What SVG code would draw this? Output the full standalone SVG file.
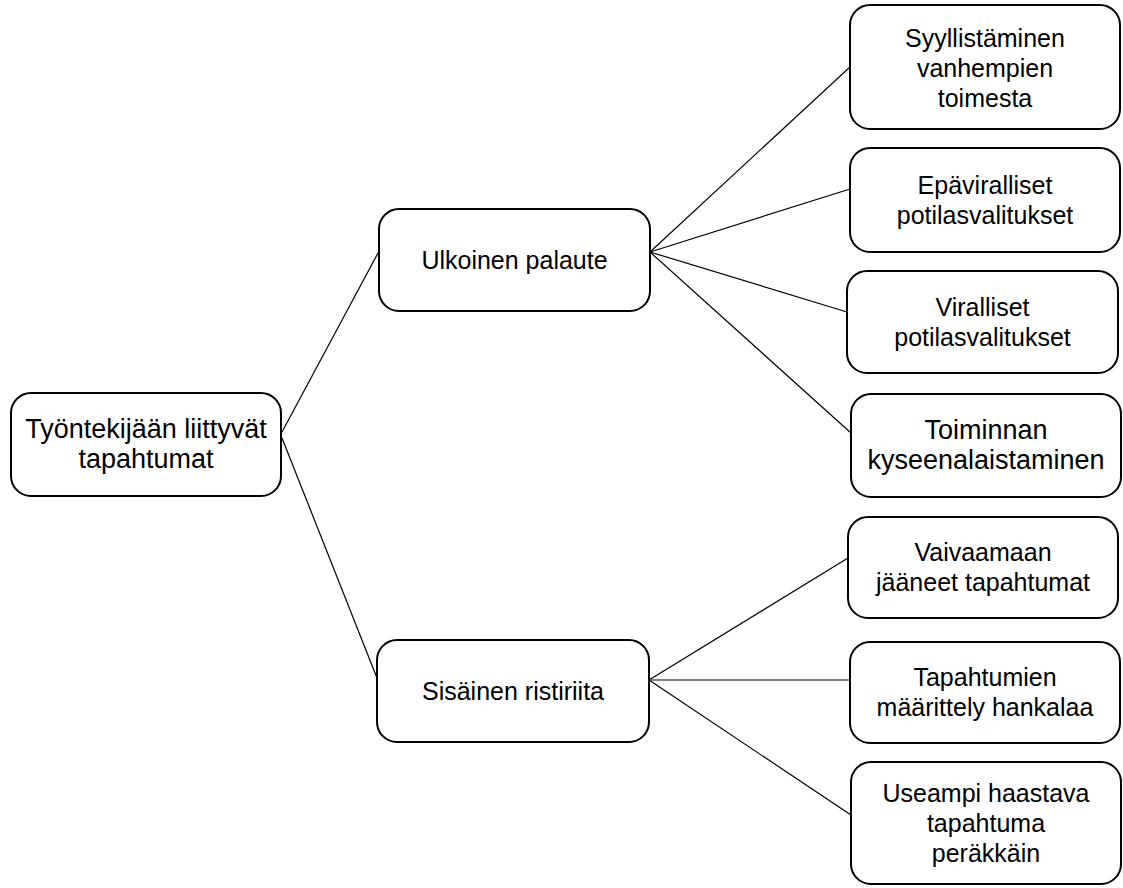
<svg xmlns="http://www.w3.org/2000/svg" width="1123" height="888" viewBox="0 0 1123 888">
  <style>
    .box { fill: #ffffff; stroke: #000000; stroke-width: 2; }
    .lbl { font-family: "Liberation Sans", Arial, sans-serif; font-size: 25px; fill: #000000; text-anchor: middle; }
    .big { font-size: 27px; }
    .link { stroke: #000000; stroke-width: 1.2; fill: none; }
  </style>
  <rect width="1123" height="888" fill="#ffffff"/>

  <!-- connectors -->
  <g id="connectors">
    <line class="link" x1="282" y1="432" x2="378" y2="253"/>
    <line class="link" x1="282" y1="438" x2="377" y2="678"/>
    <line class="link" x1="650" y1="252" x2="850" y2="67"/>
    <line class="link" x1="650" y1="252" x2="850" y2="189"/>
    <line class="link" x1="650" y1="252" x2="847" y2="312"/>
    <line class="link" x1="650" y1="252" x2="851" y2="433"/>
    <line class="link" x1="649" y1="680" x2="848" y2="558"/>
    <line class="link" x1="649" y1="680" x2="850" y2="680"/>
    <line class="link" x1="649" y1="680" x2="851" y2="815"/>
  </g>

  <!-- root -->
  <g id="node-root">
    <rect class="box" x="11" y="393" width="270" height="103" rx="20"/>
    <text class="lbl big" x="146" y="438">Työntekijään liittyvät</text>
    <text class="lbl big" x="146" y="468">tapahtumat</text>
  </g>

  <!-- second level -->
  <g id="node-ulkoinen">
    <rect class="box" x="379" y="209" width="271" height="102" rx="20"/>
    <text class="lbl" x="514.5" y="269">Ulkoinen palaute</text>
  </g>
  <g id="node-sisainen">
    <rect class="box" x="377" y="640" width="272" height="102" rx="20"/>
    <text class="lbl" x="513" y="700">Sisäinen ristiriita</text>
  </g>

  <!-- leaves -->
  <g id="node-syyllistaminen">
    <rect class="box" x="850" y="5" width="270" height="124" rx="20"/>
    <text class="lbl" x="985" y="47">Syyllistäminen</text>
    <text class="lbl" x="985" y="77">vanhempien</text>
    <text class="lbl" x="985" y="107">toimesta</text>
  </g>
  <g id="node-epaviralliset">
    <rect class="box" x="850" y="148" width="270" height="104" rx="20"/>
    <text class="lbl" x="985" y="194">Epäviralliset</text>
    <text class="lbl" x="985" y="224">potilasvalitukset</text>
  </g>
  <g id="node-viralliset">
    <rect class="box" x="847" y="271" width="271" height="102" rx="20"/>
    <text class="lbl" x="982.5" y="316">Viralliset</text>
    <text class="lbl" x="982.5" y="346">potilasvalitukset</text>
  </g>
  <g id="node-toiminnan">
    <rect class="box" x="851" y="394" width="270" height="103" rx="20"/>
    <text class="lbl big" x="986" y="439">Toiminnan</text>
    <text class="lbl big" x="986" y="469">kyseenalaistaminen</text>
  </g>
  <g id="node-vaivaamaan">
    <rect class="box" x="848" y="517" width="270" height="101" rx="20"/>
    <text class="lbl" x="983" y="561">Vaivaamaan</text>
    <text class="lbl" x="983" y="591">jääneet tapahtumat</text>
  </g>
  <g id="node-tapahtumien">
    <rect class="box" x="850" y="642" width="270" height="101" rx="20"/>
    <text class="lbl" x="985" y="686">Tapahtumien</text>
    <text class="lbl" x="985" y="716">määrittely hankalaa</text>
  </g>
  <g id="node-useampi">
    <rect class="box" x="851" y="762" width="270" height="122" rx="20"/>
    <text class="lbl" x="986" y="802">Useampi haastava</text>
    <text class="lbl" x="986" y="832">tapahtuma</text>
    <text class="lbl" x="986" y="862">peräkkäin</text>
  </g>
</svg>
